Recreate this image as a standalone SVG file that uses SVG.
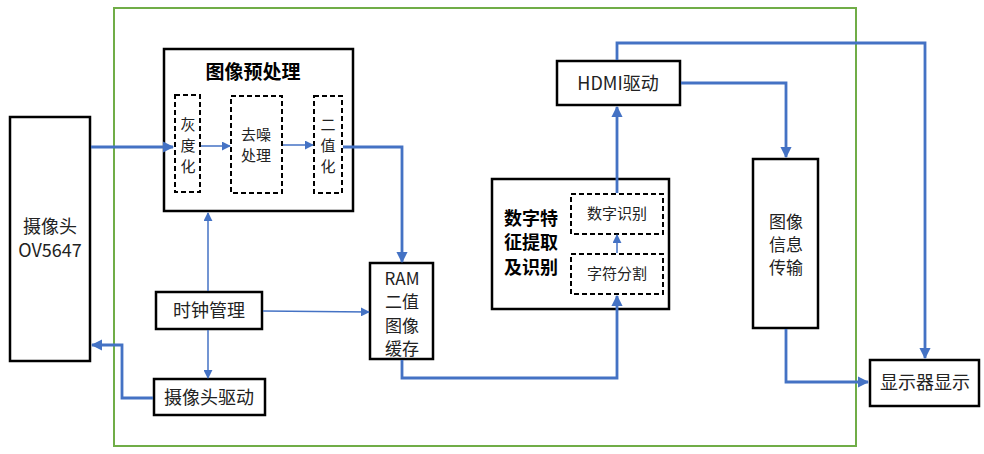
<svg xmlns="http://www.w3.org/2000/svg" width="984" height="454" viewBox="0 0 984 454">
<defs>
<style>
.box{fill:#fff;stroke:#000;stroke-width:2.5}
.dash{fill:none;stroke:#000;stroke-width:2;stroke-dasharray:5,3}
.t{font-family:"Noto Sans CJK SC","Noto Sans",sans-serif;font-size:18px;fill:#222;text-anchor:middle}
.m{font-size:17px}
.s{font-size:15px}
.b{font-weight:bold;fill:#000}
.c{fill:none;stroke:#4472C4;stroke-width:2.8}
.ct{fill:none;stroke:#4472C4;stroke-width:1.5}
</style>
<marker id="a" viewBox="0 0 10 10" refX="9" refY="5" markerWidth="4" markerHeight="4" orient="auto" markerUnits="strokeWidth"><path d="M0,0L10,5L0,10z" fill="#4472C4"/></marker>
<marker id="at" viewBox="0 0 10 10" refX="9" refY="5" markerWidth="6" markerHeight="6" orient="auto" markerUnits="strokeWidth"><path d="M0,0L10,5L0,10z" fill="#4472C4"/></marker>
</defs>
<rect x="114" y="8" width="742" height="438" fill="none" stroke="#70AD47" stroke-width="2"/>
<g id="camera"><rect class="box" x="10" y="117" width="80" height="244"/><text class="t" x="50" y="257"><tspan x="50" y="233">摄像头</tspan><tspan x="50" y="257">OV5647</tspan></text></g>
<g id="preprocess"><rect class="box" x="164" y="49" width="189" height="162"/><text class="t b" x="253" y="79" style="font-size:19px">图像预处理</text></g>
<g id="gray"><rect class="dash" x="175" y="95" width="25" height="97"/><text class="t s"><tspan x="188" y="130">灰</tspan><tspan x="188" y="151">度</tspan><tspan x="188" y="172">化</tspan></text></g>
<g id="denoise"><rect class="dash" x="231" y="96" width="51" height="97"/><text class="t s"><tspan x="256" y="140">去噪</tspan><tspan x="256" y="161">处理</tspan></text></g>
<g id="binary"><rect class="dash" x="314" y="96" width="28" height="97"/><text class="t s"><tspan x="328" y="130">二</tspan><tspan x="328" y="151">值</tspan><tspan x="328" y="172">化</tspan></text></g>
<g id="clock"><rect class="box" x="156" y="292" width="106" height="37"/><text class="t" x="209" y="317">时钟管理</text></g>
<g id="camdrv"><rect class="box" x="154" y="379" width="111" height="36"/><text class="t" x="209" y="404">摄像头驱动</text></g>
<g id="ram"><rect class="box" x="370" y="263" width="63" height="96"/><text class="t m"><tspan x="402" y="285">RAM</tspan><tspan x="402" y="308">二值</tspan><tspan x="402" y="332">图像</tspan><tspan x="402" y="355">缓存</tspan></text></g>
<g id="feature"><rect class="box" x="492" y="179" width="177" height="130"/><text class="t b"><tspan x="531" y="225">数字特</tspan><tspan x="531" y="249">征提取</tspan><tspan x="531" y="274">及识别</tspan></text></g>
<g id="digit"><rect class="dash" x="571" y="194" width="92" height="40"/><text class="t s" x="617" y="219">数字识别</text></g>
<g id="seg"><rect class="dash" x="571" y="254" width="92" height="40"/><text class="t s" x="617" y="279">字符分割</text></g>
<g id="hdmi"><rect class="box" x="557" y="61" width="123" height="44"/><text class="t" x="618" y="90">HDMI驱动</text></g>
<g id="imgtx"><rect class="box" x="753" y="159" width="65" height="169"/><text class="t m"><tspan x="786" y="228">图像</tspan><tspan x="786" y="251">信息</tspan><tspan x="786" y="274">传输</tspan></text></g>
<g id="display"><rect class="box" x="870" y="360" width="109" height="46"/><text class="t" x="925" y="389">显示器显示</text></g>
<g id="connectors">
<path class="c" d="M91,147H173" marker-end="url(#a)"/>
<path class="ct" d="M201,146H230" marker-end="url(#at)"/>
<path class="ct" d="M283,145H313" marker-end="url(#at)"/>
<path class="c" d="M343,147H402V262" marker-end="url(#a)"/>
<path class="ct" d="M208,291V213" marker-end="url(#at)"/>
<path class="ct" d="M263,311L369,312" marker-end="url(#at)"/>
<path class="ct" d="M208,330V378" marker-end="url(#at)"/>
<path class="c" d="M153,398H122V345H92" marker-end="url(#a)"/>
<path class="c" d="M402,360V378H617V296" marker-end="url(#a)"/>
<path class="ct" d="M617,253V235" marker-end="url(#at)"/>
<path class="c" d="M617,193V107" marker-end="url(#a)"/>
<path class="c" d="M617,60V43H925V358" marker-end="url(#a)"/>
<path class="c" d="M681,83H786V157" marker-end="url(#a)"/>
<path class="c" d="M786,329V382H868" marker-end="url(#a)"/>
</g>
</svg>
